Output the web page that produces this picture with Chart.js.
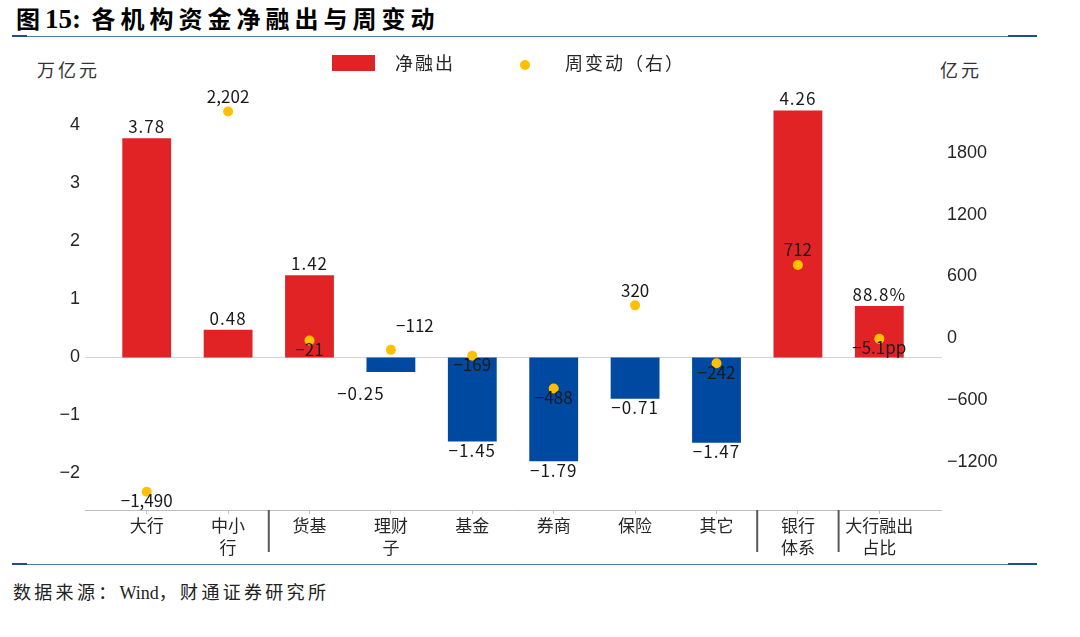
<!DOCTYPE html>
<html lang="zh">
<head>
<meta charset="UTF-8">
<title>各机构资金净融出与周变动</title>
<script src="https://cdn.jsdelivr.net/npm/chart.js"></script>
<style>
  body { margin: 0; background: #fff; }
  #wrap { position: relative; width: 1080px; height: 637px; overflow: hidden; }
  #chart { position: absolute; left: 0; top: 0; }
  .txt { position: absolute; white-space: nowrap; font-family: "Noto Sans CJK SC", sans-serif; color: #1a1a1a; }
  .rule { position: absolute; background: #4a7ebb; }
  .rule-dark { position: absolute; background: #1f4e8c; }
</style>
</head>
<body>
<div id="wrap">
  <div class="txt" style="left:16px;top:3px;font-size:24px;font-weight:bold;letter-spacing:5px;line-height:30px;color:#000">图<span style="font-family:'Liberation Serif',serif;font-size:27px;letter-spacing:0">15:</span> 各机构资金净融出与周变动</div>
  <div class="rule" style="left:12px;top:36px;width:1025px;height:1px"></div>
  <div class="rule-dark" style="left:12px;top:35px;width:15px;height:2px"></div>
  <div class="rule-dark" style="left:1008px;top:35px;width:29px;height:2px"></div>

  <div class="txt" style="left:37px;top:57px;font-size:18px;letter-spacing:3px;line-height:24px;color:#333">万亿元</div>
  <div class="txt" style="left:940px;top:57px;font-size:18px;letter-spacing:3px;line-height:24px;color:#333">亿元</div>

  <div class="rule" style="left:12px;top:564px;width:1025px;height:1px"></div>
  <div class="rule-dark" style="left:12px;top:563px;width:15px;height:2px"></div>
  <div class="rule-dark" style="left:1008px;top:563px;width:29px;height:2px"></div>
  <div class="txt" style="left:13px;top:578px;font-size:18px;letter-spacing:3.3px;line-height:26px;color:#222">数据来源：<span style="font-family:'Liberation Serif',serif;letter-spacing:0">Wind</span>，财通证券研究所</div>

  <canvas id="chart" width="1080" height="637"></canvas>
</div>

<script>
// 类别（多行标签）
const categories = [['大行'], ['中小', '行'], ['货基'], ['理财', '子'], ['基金'], ['券商'], ['保险'], ['其它'], ['银行', '体系'], ['大行融出', '占比']];
// 净融出（万亿元），最后一项为大行融出占比
const netFinancing = [3.78, 0.48, 1.42, -0.25, -1.45, -1.79, -0.71, -1.47, 4.26, 0.888];
// 周变动（亿元），最后一项单位 pp
const weeklyChange = [-1490, 2202, -21, -112, -169, -488, 320, -242, 712, -5.1];
const leftTicks = [-2, -1, 0, 1, 2, 3, 4];
const rightTicks = [-1200, -600, 0, 600, 1200, 1800];
// 分组竖线位于这些类别之后
const groupBreaks = [1, 7, 8];

const RED = '#e12326';
const BLUE = '#0049a0';
const GOLD = '#ffc000';
const CJK = '"Noto Sans CJK SC", sans-serif';
const NUM = '"Liberation Sans", Arial, sans-serif';

const lastIdx = categories.length - 1;
const minus = s => s.replace('-', '\u2212');
const fmtNet = (v, i) => minus(i === lastIdx ? (v * 100).toFixed(1) + '%' : v.toFixed(2));
const fmtWeek = (v, i) => minus(i === lastIdx ? v.toFixed(1) + 'pp' : v.toLocaleString('en-US'));

// 个别标签的手动偏移（避免重叠）
const barLabelShift = { 3: [-30, 13] };
const dotLabelShift = { 3: [24, -33] };

const decor = {
  id: 'decor',
  beforeDatasetsDraw(chart) {
    const { ctx, chartArea: a, scales } = chart;
    const y0 = scales.y.getPixelForValue(0);
    ctx.save();
    // 零线和横轴线
    ctx.lineWidth = 1;
    ctx.strokeStyle = '#d3d3d3';
    ctx.beginPath();
    ctx.moveTo(a.left - 21, Math.round(y0) + 0.5);
    ctx.lineTo(a.right + 22, Math.round(y0) + 0.5);
    ctx.stroke();
    ctx.strokeStyle = '#bfbfbf';
    ctx.beginPath();
    ctx.moveTo(a.left - 21, a.bottom + 0.5);
    ctx.lineTo(a.right + 22, a.bottom + 0.5);
    ctx.stroke();
    // 分组竖线
    ctx.strokeStyle = '#595959';
    ctx.lineWidth = 2;
    groupBreaks.forEach(i => {
      const x = (scales.x.getPixelForValue(i) + scales.x.getPixelForValue(i + 1)) / 2;
      ctx.beginPath();
      ctx.moveTo(x, a.bottom);
      ctx.lineTo(x, a.bottom + 42);
      ctx.stroke();
    });
    ctx.restore();
  },
  afterDatasetsDraw(chart) {
    const ctx = chart.ctx;
    ctx.save();
    ctx.textAlign = 'center';
    ctx.textBaseline = 'middle';
    ctx.fillStyle = '#1a1a1a';
    ctx.font = '17px ' + CJK;
    ctx.letterSpacing = '1px';
    chart.getDatasetMeta(0).data.forEach((el, i) => {
      const v = netFinancing[i];
      const s = barLabelShift[i] || [0, 0];
      const y = v >= 0 ? el.y - 11.5 : el.y + 9;
      ctx.fillText(fmtNet(v, i), el.x + s[0], y + s[1]);
    });
    ctx.letterSpacing = '0px';
    ctx.font = '17px ' + CJK;
    chart.getDatasetMeta(1).data.forEach((el, i) => {
      const v = weeklyChange[i];
      const s = dotLabelShift[i] || [0, 0];
      const y = v > 0 ? el.y - 15 : el.y + 9;
      ctx.fillText(fmtWeek(v, i), el.x + s[0], y + s[1]);
    });
    ctx.restore();
  },
  afterDraw(chart) {
    // 图例
    const ctx = chart.ctx;
    const ds = chart.data.datasets;
    ctx.save();
    ctx.font = '18px ' + CJK;
    ctx.letterSpacing = '2px';
    ctx.textBaseline = 'middle';
    ctx.fillStyle = RED;
    ctx.fillRect(332, 55, 43, 16);
    ctx.fillStyle = '#262626';
    ctx.fillText(ds[0].label, 395, 63);
    ctx.fillStyle = GOLD;
    ctx.beginPath();
    ctx.arc(525, 65, 5, 0, Math.PI * 2);
    ctx.fill();
    ctx.fillStyle = '#262626';
    ctx.fillText(ds[1].label, 565, 63);
    ctx.restore();
  }
};

new Chart(document.getElementById('chart'), {
  type: 'bar',
  data: {
    labels: categories,
    datasets: [
      {
        label: '净融出',
        data: netFinancing,
        backgroundColor: c => c.raw >= 0 ? RED : BLUE,
        barPercentage: 0.6,
        categoryPercentage: 1,
        yAxisID: 'y',
        order: 2
      },
      {
        type: 'line',
        label: '周变动（右）',
        data: weeklyChange,
        showLine: false,
        pointRadius: 5,
        pointHoverRadius: 5,
        pointBackgroundColor: GOLD,
        pointBorderWidth: 0,
        yAxisID: 'y1',
        order: 1
      }
    ]
  },
  options: {
    responsive: false,
    animation: false,
    layout: { padding: { top: 100, bottom: 67, left: 0, right: 0 } },
    plugins: { legend: { display: false }, tooltip: { enabled: false } },
    scales: {
      x: {
        offset: true,
        border: { display: false },
        grid: { display: true, offset: false, drawOnChartArea: false, drawTicks: true, tickLength: 4, color: '#bfbfbf' },
        ticks: { color: '#262626', font: { family: CJK, size: 17, lineHeight: 1.3 }, padding: 0, maxRotation: 0, autoSkip: false },
        afterFit: s => { s.height = 60; }
      },
      y: {
        position: 'left',
        min: -2.63,
        max: 4.44,
        border: { display: false },
        grid: { display: false, drawTicks: false },
        ticks: { color: '#262626', font: { family: NUM, size: 18 }, padding: 26, callback: v => minus(String(v)) },
        afterBuildTicks: s => { s.ticks = leftTicks.map(v => ({ value: v })); },
        afterFit: s => { s.width = 106; }
      },
      y1: {
        position: 'right',
        min: -1667,
        max: 2314,
        border: { display: false },
        grid: { display: false, drawTicks: false },
        ticks: { color: '#262626', font: { family: NUM, size: 18 }, padding: 27, callback: v => minus(String(v)) },
        afterBuildTicks: s => { s.ticks = rightTicks.map(v => ({ value: v })); },
        afterFit: s => { s.width = 160; }
      }
    }
  },
  plugins: [decor]
});
</script>
</body>
</html>
